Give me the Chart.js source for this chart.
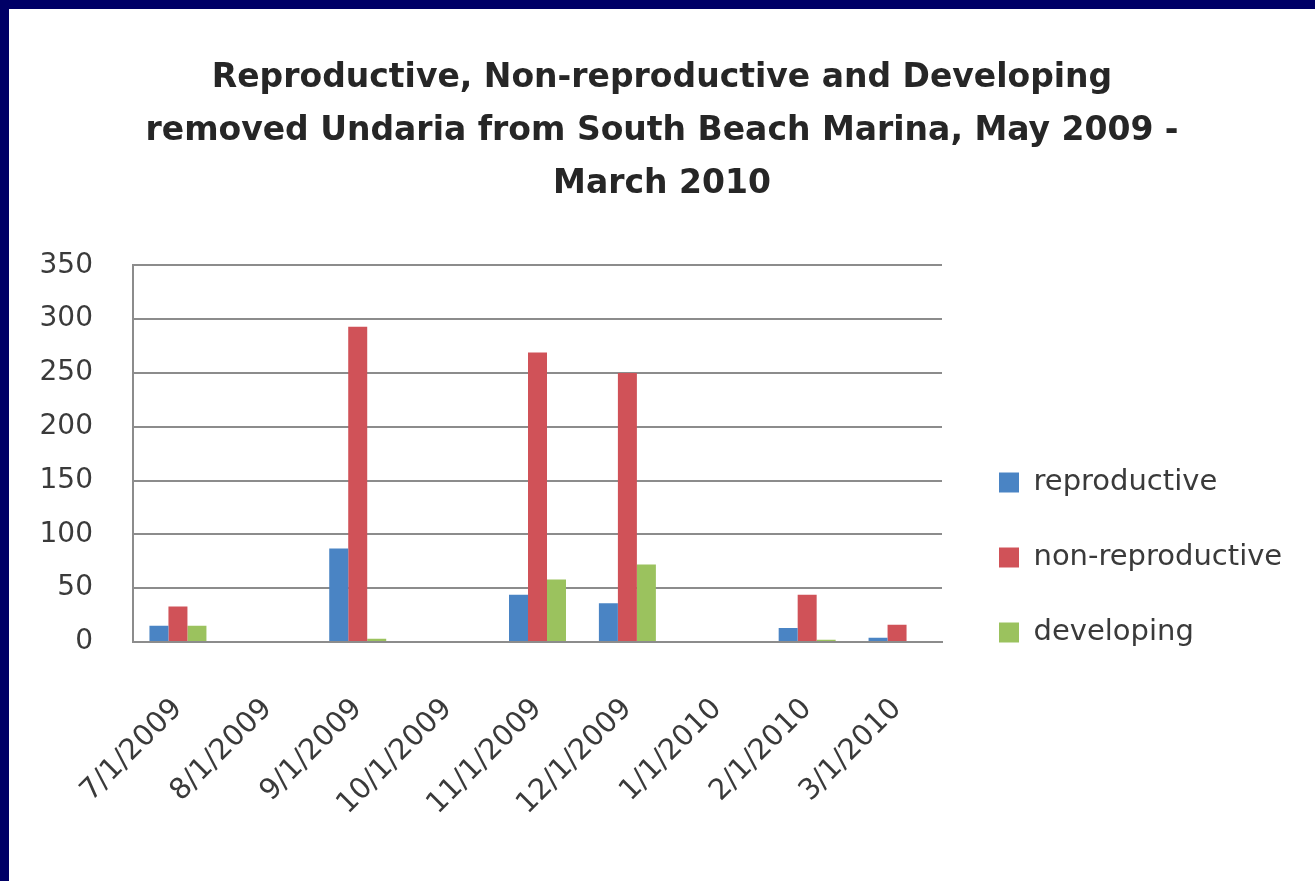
<!DOCTYPE html>
<html><head><meta charset="utf-8">
<script src="https://cdn.jsdelivr.net/npm/chart.js@4.4.1/dist/chart.umd.min.js"></script>
<style>
html,body{margin:0;padding:0;background:#000066;width:1315px;height:881px;overflow:hidden}
#wrap{position:absolute;left:9px;top:9px;width:1306px;height:872px;background:#fff}
canvas{display:block}
</style></head><body><div id="wrap"><canvas id="c" width="1306" height="872"></canvas></div>
<script>
const titleLines = ["Reproductive, Non-reproductive and Developing", "removed Undaria from South Beach Marina, May 2009 -", "March 2010"];
const categories = ["7/1/2009","8/1/2009","9/1/2009","10/1/2009","11/1/2009","12/1/2009","1/1/2010","2/1/2010","3/1/2010"];
const reproductive    = [15, 0, 87, 0, 44, 36, 0, 13, 4];
const nonReproductive = [33, 0, 293, 0, 269, 250, 0, 44, 16];
const developing      = [15, 0, 3, 0, 58, 72, 0, 2, 0];
const seriesNames = ["reproductive", "non-reproductive", "developing"];
const yTicks = [0, 50, 100, 150, 200, 250, 300, 350];

const FONT = "'DejaVu Sans', sans-serif";

const legendPlace = {
  id: 'legendPlace',
  afterInit(chart) {
    const lg = chart.legend;
    const fit = lg.fit;
    lg.fit = function () { fit.call(this); this.width = 373; };
  },
  afterLayout(chart) {
    const lg = chart.legend;
    lg.left = 944; lg.right = 944 + 362;
    lg.top = 413; lg.bottom = 413 + 300;
  }
};

new Chart(document.getElementById('c'), {
  type: 'bar',
  data: {
    labels: categories,
    datasets: [
      { label: seriesNames[0], data: reproductive, backgroundColor: '#4A84C4' },
      { label: seriesNames[1], data: nonReproductive, backgroundColor: '#D05258' },
      { label: seriesNames[2], data: developing, backgroundColor: '#9BC25E' }
    ]
  },
  options: {
    responsive: false,
    animation: false,
    devicePixelRatio: 1,
    layout: { padding: 0 },
    datasets: { bar: { categoryPercentage: 0.634, barPercentage: 1.0, borderWidth: 0 } },
    plugins: {
      tooltip: { enabled: false },
      title: {
        display: true,
        text: titleLines,
        color: '#262626',
        font: { family: FONT, size: 33, weight: 'bold', lineHeight: 1.6 },
        padding: { top: 43, bottom: 55 }
      },
      legend: {
        position: 'right',
        align: 'start',
        labels: {
          color: '#3a3a3a',
          font: { family: FONT, size: 29 },
          boxWidth: 20, boxHeight: 20,
          padding: 46
        }
      }
    },
    scales: {
      x: {
        grid: { display: false, drawTicks: false },
        border: { display: true, color: '#8c8c8c', width: 2 },
        ticks: { color: '#3a3a3a', font: { family: FONT, size: 29 }, maxRotation: 45, minRotation: 45, padding: 50, autoSkip: false },
        afterFit(s) { s.height = 239; }
      },
      y: {
        min: 0, max: 350,
        afterBuildTicks(s) { s.ticks = yTicks.map(v => ({ value: v })); },
        grid: { color: '#8c8c8c', lineWidth: 2, drawTicks: false },
        border: { display: true, color: '#8c8c8c', width: 2 },
        ticks: { color: '#3a3a3a', font: { family: FONT, size: 28 }, padding: 40 },
        afterFit(s) { s.width = 124; }
      }
    }
  },
  plugins: [legendPlace]
});
</script></body></html>
